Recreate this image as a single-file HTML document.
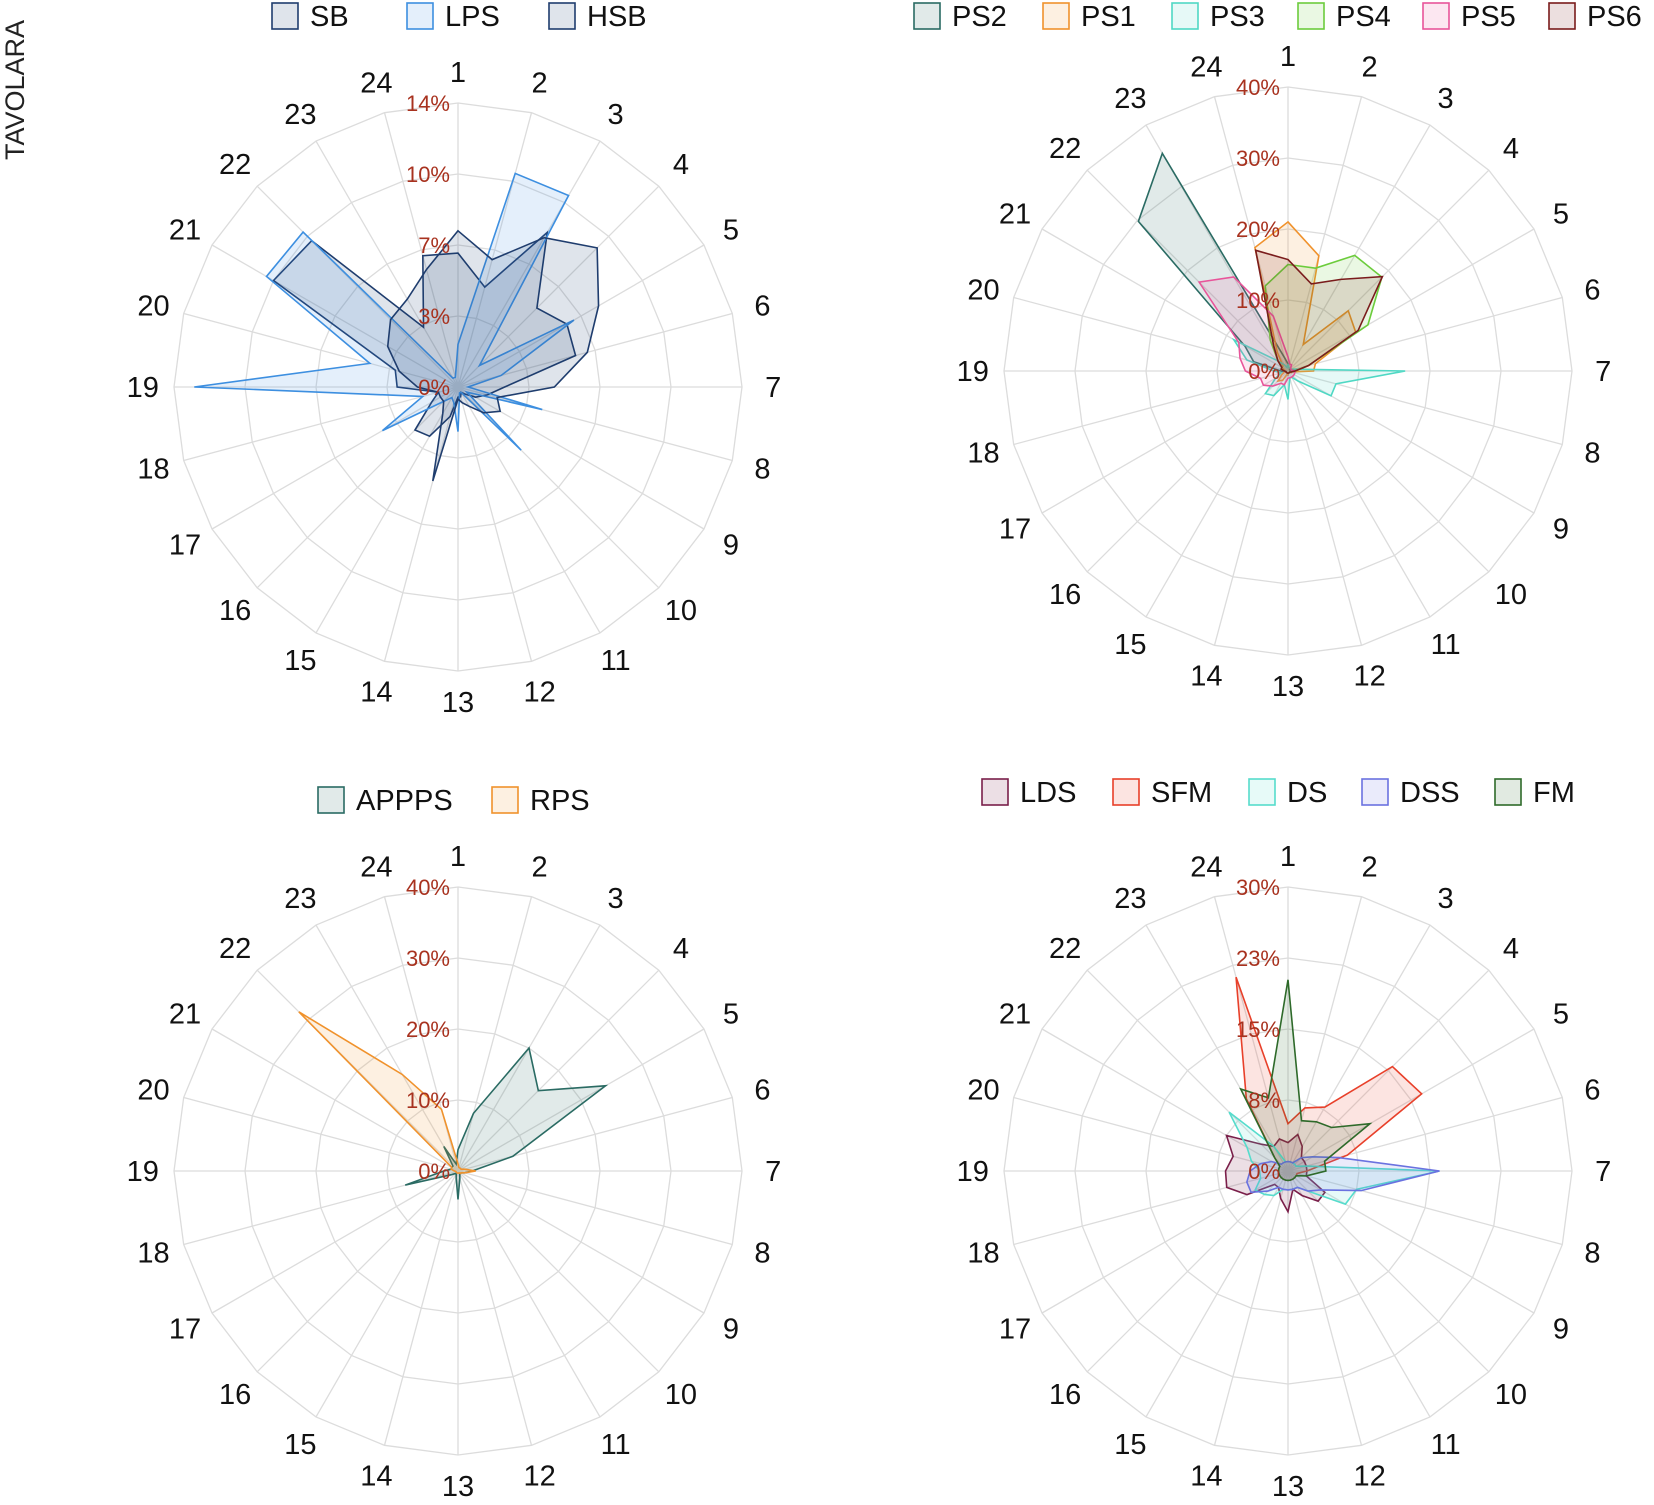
<!DOCTYPE html>
<html><head><meta charset="utf-8"><style>
body{margin:0;background:#fff;}
svg{display:block;font-family:"Liberation Sans",Arial,sans-serif;}
</style></head><body>
<svg id="root" width="1654" height="1505" viewBox="0 0 1654 1505">
<text x="24" y="90" font-size="27" text-anchor="middle" transform="rotate(-90 24 90)" fill="#222">TAVOLARA</text>
</svg>
<script>
const hours = ["1","2","3","4","5","6","7","8","9","10","11","12","13","14","15","16","17","18","19","20","21","22","23","24"];
// Chart 1 (max 14%)
const tl_ticks = ["0%","3%","7%","10%","14%"];
const sb  = [6.6,5.1,8.8,5.5,6.2,6.0,2.3,1.5,1.0,0.5,0.3,0.5,0.5,1.5,2.8,3.0,1.5,1.0,3.0,3.2,10.5,10.2,3.4,6.7];
const lps = [2.1,10.9,10.9,1.5,6.6,2.2,0.5,4.3,0.5,4.4,0.3,0.3,2.2,0.8,0.6,1.0,4.3,1.8,13.0,4.5,10.9,10.8,0.5,0.5];
const hsb = [7.7,6.5,8.5,9.7,8.0,6.6,4.75,2.0,2.4,1.8,1.1,0.8,0.6,4.8,1.5,1.0,1.0,1.0,2.0,3.0,4.0,4.7,5.0,6.0];
// Chart 2 (max 40%)
const tr_ticks = ["0%","10%","20%","30%","40%"];
const ps2 = [1,0.5,0.5,0.3,0.3,0.3,0.5,0.3,0.3,0.3,0.3,0.3,0.5,0.3,0.3,0.3,0.3,0.5,1,5,7,29.8,35.4,2];
const ps1 = [21,16.8,4.3,12,11,4,3.6,0.5,0.5,0.3,0.3,0.3,0.5,0.5,1.5,2,1,0.5,0.5,0.5,1,1,3,18];
const ps3 = [1,0.5,0.5,0.5,0.5,1,16.5,7,7,2,1,1,4,2,4,4.5,2,1,2,6,8.8,2,1,0.5];
const ps4 = [15,15,18.8,18.7,13,3,1,0.5,0.3,0.3,0.3,0.3,0.3,0.3,0.3,0.3,0.3,0.3,0.5,1,1,2,5,12.4];
const ps5 = [2,1,1,0.5,0.5,0.5,1,1,1,1,1,1,1,2,2,3,4,4,6,7,8,17.7,15.3,8];
const ps6 = [15.7,12.7,14.9,18.8,11.4,3,1,0.5,0.3,0.3,0.3,0.3,0.3,0.3,0.3,0.3,0.3,0.3,0.5,1,1,2,4,17.6];
// Chart 3 (max 40%)
const bl_ticks = ["0%","10%","20%","30%","40%"];
const apps = [3,8.4,20,16,24,8,2,1,0.5,0.5,0.5,1,4,1,0.5,0.5,1,7.7,2,1,1,1,4,1];
const rps  = [1,0.5,0.5,0.5,0.5,1,2.5,1,0.5,0.5,0.3,0.3,0.3,0.3,0.3,0.3,0.3,0.3,0.5,1,1,31.7,15.7,9];
// Chart 4 (max 30%)
const br_ticks = ["0%","8%","15%","23%","30%"];
const lds = [3,4,3,2,2,2,2,2,4.5,4.5,3,2,4.3,3,2,2,5,6.7,6.6,6,7.5,4,3,3.5];
const sfm = [5,6.9,7.8,15.6,16.3,6.5,2,1,1,1,1,1,1,1,1,1,1,1,1,1,1,2,8.8,21.2];
const ds  = [1,1,1,1,1,2,16,7.5,7,3,2,2,2,2,3,3.5,4,3,3,4,5,8.8,3,1];
const dss = [1,1,1,2,3,5.5,16,8,4,3,2,2,2,2,2,3,4.5,4.5,4,3,2,1,1,1];
const fm  = [20.2,5.5,6,6.5,10,4,4,2,1,1,1,1,1,1,1,1,1,1,1,1,1,2,10,8];

const NS="http://www.w3.org/2000/svg";
const root=document.getElementById('root');
const R=284;
function mk(tag,attrs,parent){const e=document.createElementNS(NS,tag);for(const k in attrs)e.setAttribute(k,attrs[k]);(parent||root).appendChild(e);return e;}
function ang(i){return (i*15-90)*Math.PI/180;}
function pt(cx,cy,r,i){return [cx+r*Math.cos(ang(i)),cy+r*Math.sin(ang(i))];}

function radar(name,cx,cy,max,ticks,series,legend){
  const g=mk('g',{});
  
  
  for(let k=1;k<=4;k++){
    const p=hours.map((h,i)=>pt(cx,cy,R*k/4,i).join(',')).join(' ');
    const ring=mk('polygon',{points:p,fill:'none',stroke:'#dcdcdc','stroke-width':1.3},g);
    
    
  }
  hours.forEach((h,i)=>{
    const [x,y]=pt(cx,cy,R,i);
    const sp=mk('line',{x1:cx,y1:cy,x2:x,y2:y,stroke:'#dcdcdc','stroke-width':1.3},g);
    
    
    const [lx,ly]=pt(cx,cy,R*1.11,i);
    const t=mk('text',{x:lx,y:ly+10,'text-anchor':'middle','font-size':29,fill:'#111'},g);
    t.textContent=h;
    
    
  });
  series.forEach(s=>{
    const p=s.vals.map((v,i)=>pt(cx,cy,R*v/max,i).join(',')).join(' ');
    const poly=mk('polygon',{points:p,fill:s.color,'fill-opacity':0.14,stroke:s.color,'stroke-width':1.6,'stroke-linejoin':'miter'},g);
    
    
  });
  ticks.forEach((t,k)=>{
    const tx=mk('text',{x:cx-8,y:cy-R*k/4+8,'text-anchor':'end','font-size':22,fill:'#a8321f'},g);
    tx.textContent=t;
    
    
  });
  legend.items.forEach((it,j)=>{
    const s=series.find(q=>q.name===it);
    const bx=legend.bx[j];
    const rect=mk('rect',{x:bx,y:legend.y-13,width:26,height:26,fill:s.color,'fill-opacity':0.14,stroke:s.color,'stroke-width':1.6},g);
    
    
    const t=mk('text',{x:bx+38,y:legend.y+10,'font-size':29,fill:'#111'},g);
    t.textContent=it;
    
    
  });
}
radar('chart-sb-lps-hsb',458,387,14,tl_ticks,[
  {name:'SB',vals:sb,color:'#1f3d6e'},{name:'LPS',vals:lps,color:'#3d8fe0'},{name:'HSB',vals:hsb,color:'#1f3d6e'}],
  {items:['SB','LPS','HSB'],bx:[272,407,549],y:16});
radar('chart-ps',1288,371,40,tr_ticks,[
  {name:'PS2',vals:ps2,color:'#2a6b63'},{name:'PS1',vals:ps1,color:'#f0922c'},{name:'PS3',vals:ps3,color:'#4fd8c4'},
  {name:'PS4',vals:ps4,color:'#6ccc3c'},{name:'PS5',vals:ps5,color:'#e8559a'},{name:'PS6',vals:ps6,color:'#7a1c1c'}],
  {items:['PS2','PS1','PS3','PS4','PS5','PS6'],bx:[914,1043,1172,1298,1423,1549],y:16});
radar('chart-appps-rps',458,1171,40,bl_ticks,[
  {name:'APPPS',vals:apps,color:'#2a6b63'},{name:'RPS',vals:rps,color:'#f0922c'}],
  {items:['APPPS','RPS'],bx:[318,492],y:800});
radar('chart-lds-sfm',1288,1171,30,br_ticks,[
  {name:'LDS',vals:lds,color:'#7a1f4a'},{name:'SFM',vals:sfm,color:'#e8402a'},{name:'DS',vals:ds,color:'#56dccc'},
  {name:'DSS',vals:dss,color:'#6a72e0'},{name:'FM',vals:fm,color:'#2e6a2a'}],
  {items:['LDS','SFM','DS','DSS','FM'],bx:[982,1113,1249,1362,1495],y:792});
</script>
</body></html>
